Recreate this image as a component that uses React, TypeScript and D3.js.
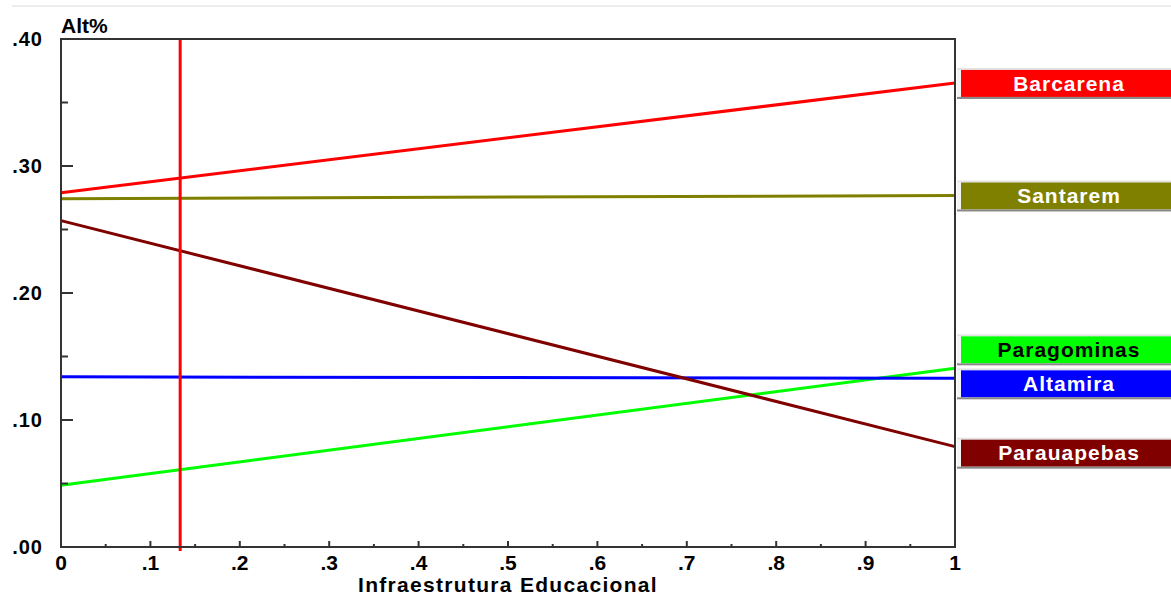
import React from "react";
import * as d3 from "d3";

const seriesNames = ["Barcarena", "Santarem", "Paragominas", "Altamira", "Parauapebas"];
const seriesColors = ["#ff0000", "#808000", "#00ff00", "#0000ff", "#800000"];
const textColors = ["#ffffff", "#ffffff", "#000000", "#ffffff", "#ffffff"];
const startValues = [0.279, 0.2743, 0.0487, 0.134, 0.257];
const endValues = [0.3654, 0.2768, 0.1407, 0.1328, 0.079];
const yTicks = [0, 0.1, 0.2, 0.3, 0.4];
const yTickLabels = [".00", ".10", ".20", ".30", ".40"];
const xTicks = [0, 0.1, 0.2, 0.3, 0.4, 0.5, 0.6, 0.7, 0.8, 0.9, 1];
const xTickLabels = ["0", ".1", ".2", ".3", ".4", ".5", ".6", ".7", ".8", ".9", "1"];
const markerX = 0.1333;
const xTitle = "Infraestrutura Educacional";
const yTitle = "Alt%";

const W = 1171;
const H = 598;
const L = 61, R = 955, T = 39, B = 547;
const FONT = "'Liberation Sans', Arial, sans-serif";

export default function App() {
  const x = d3.scaleLinear().domain([0, 1]).range([L, R]);
  const y = d3.scaleLinear().domain([0, 0.4]).range([B, T]);
  const line = d3.line<[number, number]>().x((d) => x(d[0])).y((d) => y(d[1]));

  const minorY = d3.range(0.05, 0.4, 0.1);
  const minorX = d3.range(0.05, 1, 0.1);

  // label layout with collision avoidance
  const gap = 34;
  const items = seriesNames.map((n, i) => ({ i, cy: y(endValues[i]) }));
  items.sort((a, b) => a.cy - b.cy);
  let groups = items.map((it) => ({ members: [it], center: it.cy }));
  let changed = true;
  while (changed) {
    changed = false;
    for (let k = 0; k < groups.length - 1; k++) {
      const a = groups[k], b = groups[k + 1];
      const aBottom = a.center + ((a.members.length - 1) * gap) / 2;
      const bTop = b.center - ((b.members.length - 1) * gap) / 2;
      if (bTop - aBottom < gap) {
        const members = a.members.concat(b.members);
        const center = d3.mean(members, (m) => m.cy) as number;
        groups.splice(k, 2, { members, center });
        changed = true;
        break;
      }
    }
  }
  const labelY: number[] = [];
  groups.forEach((g) => {
    g.members.forEach((m, j) => {
      labelY[m.i] =
        g.members.length === 1
          ? m.cy + (m.cy > 400 ? 6 : 0)
          : g.center - ((g.members.length - 1) * gap) / 2 + j * gap - 7;
    });
  });

  const boxL = 957;
  const boxR = 1180;

  return (
    <svg width={W} height={H} style={{ position: "absolute", left: 0, top: 0, background: "#fff" }}>
      <line x1={12} x2={W} y1={6} y2={6} stroke="#ececec" strokeWidth={2} />
      {/* y title */}
      <text x={L} y={33} fontFamily={FONT} fontWeight="bold" fontSize={21} fill="#000">
        {yTitle}
      </text>
      {/* data lines */}
      <g>
        {seriesNames.map((n, i) => (
          <path
            key={n}
            d={line([[0, startValues[i]], [1, endValues[i]]]) || ""}
            stroke={seriesColors[i]}
            strokeWidth={3}
            fill="none"
          />
        ))}
      </g>
      {/* marker line */}
      <line x1={x(markerX)} x2={x(markerX)} y1={T - 1} y2={B + 4} stroke="#ff0000" strokeWidth={3} />
      {/* frame */}
      <rect x={L} y={T} width={R - L} height={B - T} fill="none" stroke="#333" strokeWidth={2} />
      {/* y ticks */}
      {yTicks.map((v, k) => (
        <g key={"yt" + k}>
          {v > 0 && v < 0.4 && (
            <line x1={L} x2={L + 12} y1={y(v)} y2={y(v)} stroke="#333" strokeWidth={2} />
          )}
          <text
            x={43}
            y={y(v)}
            dy="0.36em"
            textAnchor="end"
            fontFamily={FONT}
            fontWeight="bold"
            fontSize={20}
            letterSpacing={1}
            fill="#000"
          >
            {yTickLabels[k]}
          </text>
        </g>
      ))}
      {minorY.map((v, k) => (
        <line key={"ym" + k} x1={L} x2={L + 7} y1={y(v)} y2={y(v)} stroke="#333" strokeWidth={2} />
      ))}
      {/* x ticks */}
      {xTicks.map((v, k) => (
        <g key={"xt" + k}>
          {v > 0 && v < 1 && (
            <line x1={x(v)} x2={x(v)} y1={B} y2={B - 6} stroke="#333" strokeWidth={2} />
          )}
          <text
            x={x(v)}
            y={570}
            textAnchor="middle"
            fontFamily={FONT}
            fontWeight="bold"
            fontSize={21}
            fill="#000"
          >
            {xTickLabels[k]}
          </text>
        </g>
      ))}
      {minorX.map((v, k) => (
        <line key={"xm" + k} x1={x(v)} x2={x(v)} y1={B} y2={B - 3} stroke="#333" strokeWidth={2} />
      ))}
      <text
        x={(L + R) / 2}
        y={592}
        textAnchor="middle"
        fontFamily={FONT}
        fontWeight="bold"
        fontSize={21}
        letterSpacing={1.3}
        fill="#000"
      >
        {xTitle}
      </text>
      {/* legend labels */}
      {seriesNames.map((n, i) => {
        const cy = labelY[i];
        return (
          <g key={"lab" + n}>
            <rect x={boxL} y={cy - 15} width={boxR - boxL} height={2} fill="#e4e4e4" />
            <rect x={boxL} y={cy - 13} width={4} height={27} fill="#f4f4f4" />
            <rect x={boxL + 4} y={cy - 13} width={boxR - boxL - 4} height={27} fill={seriesColors[i]} />
            <rect x={boxL} y={cy + 14} width={boxR - boxL} height={2} fill="#888" />
            <text
              x={1069}
              y={cy}
              dy="0.37em"
              textAnchor="middle"
              fontFamily={FONT}
              fontWeight="bold"
              fontSize={21}
              letterSpacing={1}
              fill={textColors[i]}
            >
              {n}
            </text>
          </g>
        );
      })}
    </svg>
  );
}
